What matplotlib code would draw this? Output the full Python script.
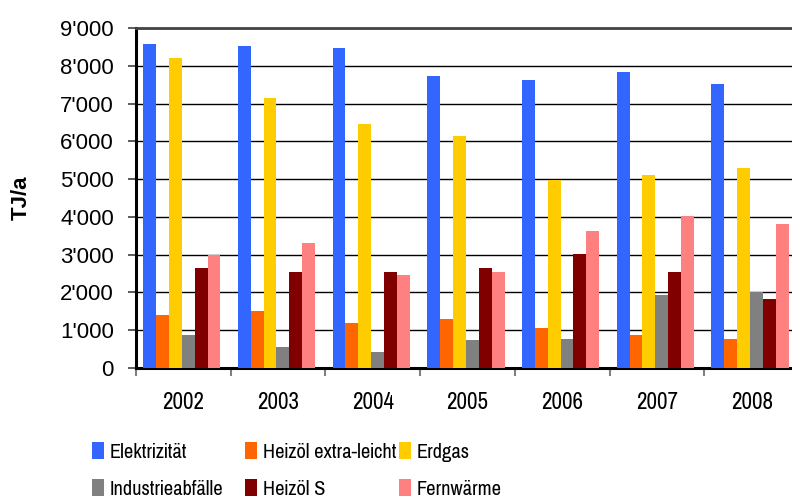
import numpy as np
import matplotlib
matplotlib.use("Agg")
from matplotlib import pyplot as plt
from matplotlib.ticker import FixedLocator, FuncFormatter

# energy use per carrier, TJ/a
years = ["2002", "2003", "2004", "2005", "2006", "2007", "2008"]
elektrizitaet = [8580, 8520, 8470, 7730, 7620, 7830, 7520]
heizoel_el = [1400, 1500, 1190, 1300, 1060, 870, 770]
erdgas = [8210, 7150, 6460, 6140, 4980, 5110, 5290]
industrieabfaelle = [870, 560, 420, 740, 770, 1930, 2010]
heizoel_s = [2650, 2540, 2540, 2650, 3020, 2540, 1830]
fernwaerme = [3000, 3310, 2460, 2540, 3630, 4020, 3810]

series = [
    ("Elektrizität", elektrizitaet, "#3366FF"),
    ("Heizöl extra-leicht", heizoel_el, "#FF6600"),
    ("Erdgas", erdgas, "#FFCC00"),
    ("Industrieabfälle", industrieabfaelle, "#808080"),
    ("Heizöl S", heizoel_s, "#800000"),
    ("Fernwärme", fernwaerme, "#FF8080"),
]

base_font = "Liberation Sans"
narrow_font = "Pragati Narrow"
plt.rcParams["font.family"] = base_font

fig = plt.figure(figsize=(7.92, 5.04), dpi=100)
ax = fig.add_axes([136 / 792, 136 / 504, 663 / 792, 340 / 504])

x = np.arange(len(years))
bw = 0.136
start = -0.5 + 0.075
bars = []
for k, (name, vals, col) in enumerate(series):
    b = ax.bar(x + start + bw * (k + 0.5), vals, width=bw, color=col, label=name,
               zorder=3)
    bars.append(b)

ax.set_xlim(-0.5, len(years) - 0.5)
ax.set_ylim(0, 9000)
ax.yaxis.set_major_locator(FixedLocator(np.arange(0, 9001, 1000)))
ax.yaxis.set_major_formatter(FuncFormatter(lambda v, p: f"{int(v):,}".replace(",", "'")))
ax.grid(axis="y", color="black", linewidth=1.0, zorder=1)

# category boundaries get the tick marks, labels sit at the centres
ax.xaxis.set_major_locator(FixedLocator(np.arange(-0.5, len(years), 1.0)))
ax.xaxis.set_major_formatter(FuncFormatter(lambda v, p: ""))
ax.xaxis.set_minor_locator(FixedLocator(x))
ax.set_xticklabels(years, minor=True)
ax.tick_params(axis="x", which="major", length=6, width=1.5, color="#808080")
ax.tick_params(axis="x", which="minor", length=0, pad=17, labelsize=18)
for t in ax.get_xticklabels(minor=True):
    t.set_fontfamily(narrow_font)
ax.tick_params(axis="y", length=6, width=1.2, color="#404040", pad=10, labelsize=16)

for side in ("left", "bottom"):
    ax.spines[side].set_linewidth(2.2)
    ax.spines[side].set_color("black")
ax.spines["top"].set_linewidth(2.0)
ax.spines["top"].set_color("#444444")
ax.spines["right"].set_visible(False)

ax.set_ylabel("TJ/a", fontsize=16, fontweight="bold", labelpad=20)

# legend laid out row by row in three fixed columns
legend_cols = [(0, 3), (1, 4), (2, 5)]
col_x = [92, 245, 399]
for (i, j), lx in zip(legend_cols, col_x):
    leg = fig.legend([bars[i], bars[j]], [series[i][0], series[j][0]],
                     loc="upper left", bbox_to_anchor=(lx / 792, 1 - 442 / 504),
                     ncol=1, frameon=False,
                     prop={"family": narrow_font, "size": 16},
                     handlelength=0.55, handleheight=0.8, handletextpad=0.25,
                     labelspacing=0.75, borderpad=0, borderaxespad=0)

fig.savefig("out.png", dpi=100)
